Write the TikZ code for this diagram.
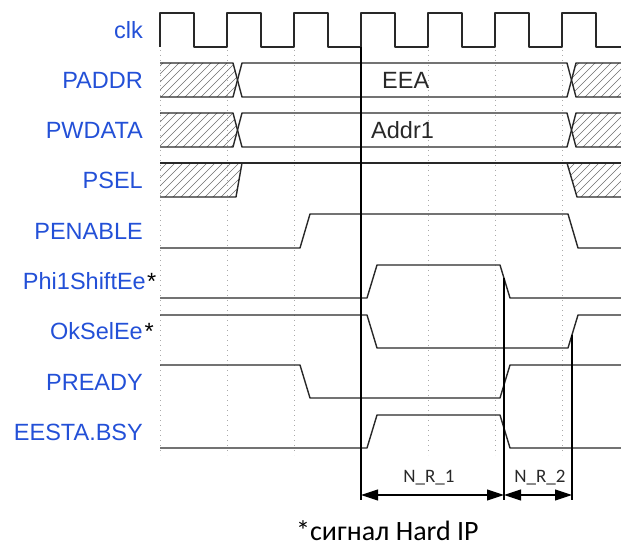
\documentclass[tikz,border=0pt]{standalone}
\usepackage{fontspec}
\setmainfont{Liberation Sans}
\newfontfamily\calib{Carlito}
\usetikzlibrary{arrows.meta}
\definecolor{lblblue}{RGB}{35,80,215}
\definecolor{wave}{RGB}{40,40,40}
\definecolor{gridc}{RGB}{170,170,170}
\definecolor{hatchc}{RGB}{110,110,110}
\newcommand\hatchfill[1]{\begin{scope}\clip #1;\foreach \i in {-24,-16,...,640}{\draw[hatchline] (\i,210) -- ++(160,-160);}\end{scope}}
\begin{document}
\begin{tikzpicture}[x=1pt,y=-1pt,
  wavel/.style={draw=wave,line width=1.4pt,line join=round},
  hatchline/.style={draw=hatchc,line width=0.6pt},
  gridl/.style={draw=gridc,line width=1pt,dash pattern=on 1.2pt off 3.8pt},
  markl/.style={draw=black,line width=1.2pt},
  dimarr/.style={draw=black,line width=1.1pt,{Triangle[length=17pt,width=11pt]}-{Triangle[length=17pt,width=11pt]}},
  sig/.style={anchor=east,inner sep=0pt,text=lblblue,font=\fontsize{23.5}{28}\selectfont},
  star/.style={anchor=base west,inner sep=0pt,text=black,font=\fontsize{23.5}{28}\selectfont},
  val/.style={anchor=west,inner sep=0pt,text=wave,font=\fontsize{23.5}{28}\selectfont},
  dimtxt/.style={inner sep=0pt,text=wave,font=\calib\fontsize{19}{23}\selectfont}]
\useasboundingbox (0,0) rectangle (621,548);
% grid
\foreach \x in {160,227,294,428,495,562}{\draw[gridl] (\x,50) -- (\x,455);}
% hatch
\hatchfill{(160,63) -- (233,63) -- (237.5,80) -- (233,97) -- (160,97) -- cycle}
\hatchfill{(576,63) -- (571.5,80) -- (576,97) -- (621,97) -- (621,63) -- cycle}
\hatchfill{(160,113) -- (233,113) -- (237.5,130) -- (233,147) -- (160,147) -- cycle}
\hatchfill{(576,113) -- (571.5,130) -- (576,147) -- (621,147) -- (621,113) -- cycle}
\hatchfill{(160,163) -- (242,163) -- (236,197) -- (160,197) -- cycle}
\hatchfill{(567,163) -- (621,163) -- (621,197) -- (577,197) -- cycle}
% labels
\node[sig] (lclk) at (143,30) {clk};
\node[sig] (lpaddr) at (143,80) {PADDR};
\node[sig] (lpwdata) at (143,130) {PWDATA};
\node[sig] (lpsel) at (143,180) {PSEL};
\node[sig] (lpen) at (143,231) {PENABLE};
\node[sig] (lphi) at (146,281) {Phi1ShiftEe};
\node[star] (sphi) at ([xshift=1pt]lphi.base east) {*};
\node[sig] (lok) at (143,331) {OkSelEe};
\node[star] (sok) at ([xshift=1.5pt]lok.base east) {*};
\node[sig] (lprdy) at (143,382) {PREADY};
\node[sig] (lbsy) at (143,432) {EESTA.BSY};
% clock
\draw[wavel] (160,47)--(160,13)--(194,13)--(194,47)--(227,47)--(227,13)--(261,13)--(261,47)--(294,47)--(294,13)--(328,13)--(328,47)--(361,47)--(361,13)--(395,13)--(395,47)--(428,47)--(428,13)--(462,13)--(462,47)--(495,47)--(495,13)--(529,13)--(529,47)--(562,47)--(562,13)--(596,13)--(596,47)--(621,47);
% buses
\draw[wavel] (160,63)--(233,63)--(242,97)--(567,97)--(576,63)--(621,63);
\draw[wavel] (160,97)--(233,97)--(242,63)--(567,63)--(576,97)--(621,97);
\draw[wavel] (160,113)--(233,113)--(242,147)--(567,147)--(576,113)--(621,113);
\draw[wavel] (160,147)--(233,147)--(242,113)--(567,113)--(576,147)--(621,147);
\draw[wavel] (160,163)--(621,163);
\draw[wavel] (160,197)--(236,197)--(242,163);
\draw[wavel] (567,163)--(577,197)--(621,197);
\node[val] (veea) at (382,80) {EEA};
\node[val] (vaddr) at (371,130) {Addr1};
% signals
\draw[wavel] (160,248)--(300,248)--(310,214)--(568,214)--(578,248)--(621,248);
\draw[wavel] (160,298)--(367,298)--(377,265)--(500,265)--(510,298)--(621,298);
\draw[wavel] (160,315)--(367,315)--(377,348)--(568,348)--(578,315)--(621,315);
\draw[wavel] (160,365)--(300,365)--(310,398)--(500,398)--(510,365)--(621,365);
\draw[wavel] (160,448)--(367,448)--(377,415)--(500,415)--(510,448)--(621,448);
% markers
\coordinate (t1) at (361,47);
\coordinate (t2) at (504,278);
\coordinate (t3) at (572,335);
\coordinate (b1) at (361,500);
\coordinate (b2) at (504,500);
\coordinate (b3) at (572,500);
\coordinate (a1) at (361,495);
\coordinate (a2) at (504,495);
\coordinate (a3) at (572,495);
\draw[markl] (t1) -- (b1);
\draw[markl] (t2) -- (b2);
\draw[markl] (t3) -- (b3);
\draw[dimarr] (a1) -- (a2);
\draw[dimarr] (a2) -- (a3);
\node[dimtxt] (n1) at (429,478) {N\_R\_1};
\node[dimtxt] (n2) at (540,478) {N\_R\_2};
\node[anchor=base west,inner sep=0pt,text=black,font=\calib\fontsize{28}{34}\selectfont] (foot) at (296,540) {*сигнал Hard IP};
\end{tikzpicture}
\end{document}
